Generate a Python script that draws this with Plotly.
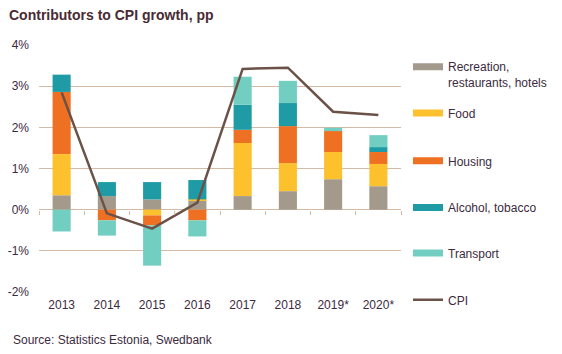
import plotly.graph_objects as go

years = ["2013", "2014", "2015", "2016", "2017", "2018", "2019*", "2020*"]
recreation = [0.35, 0.33, 0.25, 0.22, 0.33, 0.45, 0.74, 0.57]
food = [1.00, 0.00, -0.14, 0.03, 1.29, 0.68, 0.66, 0.54]
housing = [1.51, -0.26, -0.24, -0.26, 0.32, 0.90, 0.51, 0.29]
alcohol = [0.42, 0.34, 0.42, 0.47, 0.61, 0.56, 0.00, 0.12]
transport = [-0.53, -0.37, -0.98, -0.39, 0.68, 0.54, 0.08, 0.29]
cpi = [2.85, -0.09, -0.46, 0.17, 3.42, 3.45, 2.38, 2.30]

ytick_vals = [-2, -1, 0, 1, 2, 3, 4]
ytick_text = ["-2%", "-1%", "0%", "1%", "2%", "3%", "4%"]

series = [
    ("Recreation,<br>restaurants, hotels", recreation, "#A39A8C"),
    ("Food", food, "#FCC12D"),
    ("Housing", housing, "#EE7023"),
    ("Alcohol, tobacco", alcohol, "#1F9BA6"),
    ("Transport", transport, "#72CEC1"),
]

W, H = 562, 354
FONT = "Liberation Sans, Arial, sans-serif"
TXT = "#3C2A3E"
GRID = "#D5BAA5"

fig = go.Figure()
legend_pix = [75.0, 113.3, 161.0, 207.7, 253.3, 300.0]
legend_names = ["legend", "legend2", "legend3", "legend4", "legend5", "legend6"]

for i, (name, vals, col) in enumerate(series):
    fig.add_trace(go.Bar(x=years, y=vals, name=name, marker=dict(color=col, line=dict(width=0)),
                         showlegend=False, xaxis="x", yaxis="y"))
    fig.add_trace(go.Scatter(x=[None], y=[None], mode="lines", name=name,
                             line=dict(color=col, width=7), legend=legend_names[i],
                             showlegend=True, xaxis="x", yaxis="y"))

fig.add_trace(go.Scatter(x=years, y=cpi, mode="lines", name="CPI",
                         line=dict(color="#6B5248", width=2.5), legend="legend6",
                         xaxis="x2", yaxis="y"))

layout_legends = {}
for i, ln in enumerate(legend_names):
    layout_legends[ln] = dict(
        x=408 / W, xref="container", xanchor="left",
        y=1 - legend_pix[i] / H, yref="container", yanchor="middle",
        bgcolor="rgba(0,0,0,0)", borderwidth=0, valign="top",
        font=dict(family=FONT, size=12, color=TXT), itemwidth=30,
    )

fig.update_layout(
    width=W, height=H,
    margin=dict(l=39, r=161, t=45, b=62, autoexpand=False),
    paper_bgcolor="white", plot_bgcolor="white",
    barmode="relative", bargap=0.6,
    font=dict(family=FONT, size=12, color=TXT),
    title=dict(text="<b>Contributors to CPI growth, pp</b>", x=9 / W, xanchor="left",
               xref="container", y=1 - 15.5 / H, yanchor="middle", yref="container",
               font=dict(family=FONT, size=14, color="#4A2A33")),
    xaxis=dict(type="category", categoryarray=years, range=[-0.5, 7.5], automargin=False,
               showgrid=False, showline=False, zeroline=False, ticks="",
               tickfont=dict(family=FONT, size=12, color=TXT), ticklabelstandoff=4),
    xaxis2=dict(type="category", categoryarray=years, range=[-0.5, 7.5], automargin=False,
                overlaying="x", anchor="free", position=1 / 3,
                showgrid=False, showline=False, zeroline=False,
                ticks="outside", tickson="boundaries", ticklen=4, tickwidth=1,
                tickcolor=GRID, showticklabels=False),
    yaxis=dict(range=[-2, 4], tickvals=ytick_vals, ticktext=ytick_text, automargin=False,
               showgrid=True, gridcolor=GRID, gridwidth=1,
               zeroline=True, zerolinecolor=GRID, zerolinewidth=1,
               showline=False, ticks="", ticklabelstandoff=9,
               tickfont=dict(family=FONT, size=12, color=TXT)),
    annotations=[dict(text="Source: Statistics Estonia, Swedbank", xref="paper", yref="paper",
                      x=(11 - 39) / 362, y=(292 - 340) / 247, xanchor="left", yanchor="middle",
                      showarrow=False, font=dict(family=FONT, size=12, color=TXT))],
    **layout_legends,
)

fig.write_html("out.html")
